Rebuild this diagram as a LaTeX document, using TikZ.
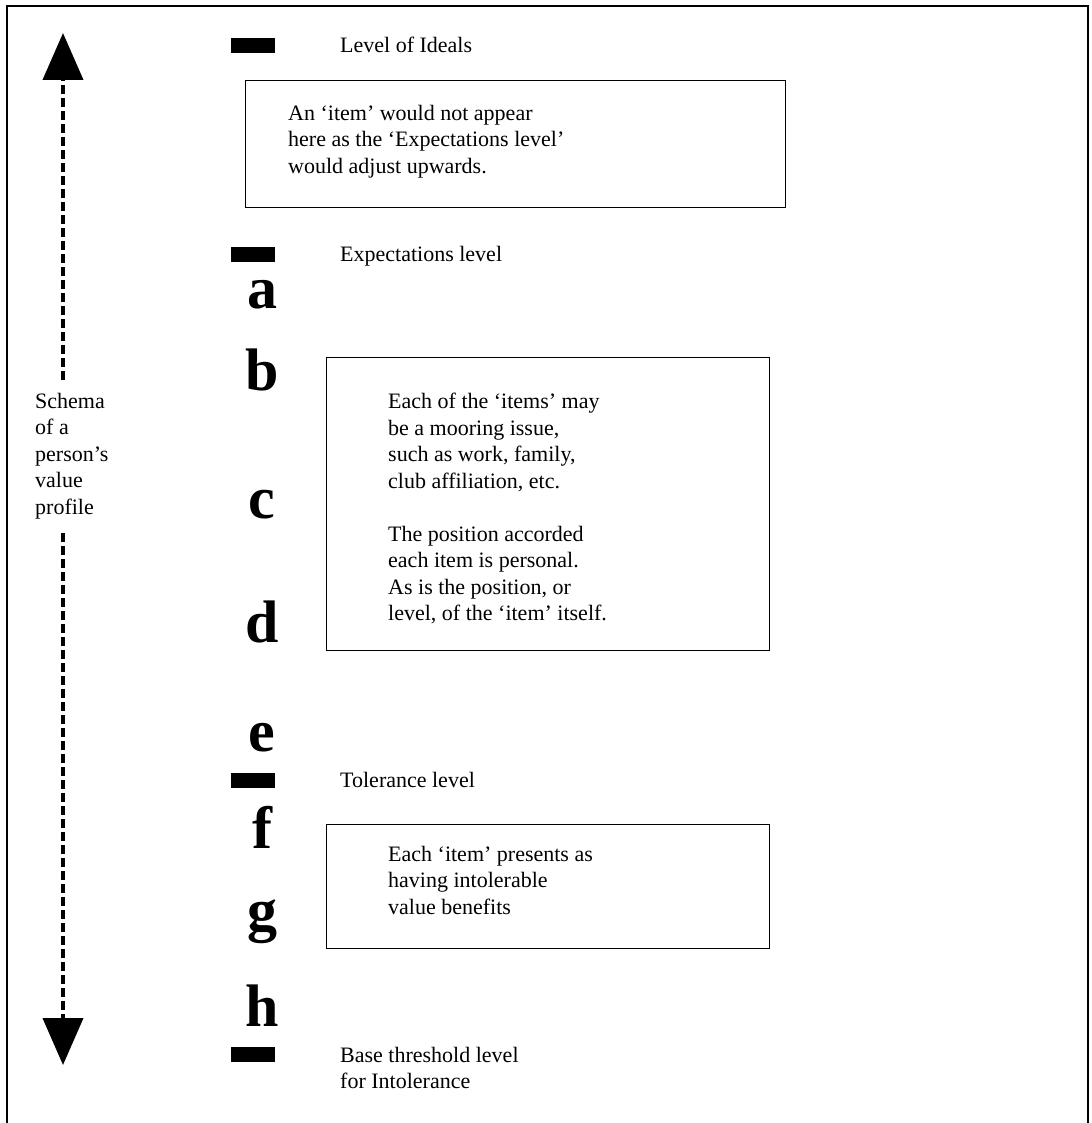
\documentclass[tikz,border=0pt]{standalone}
\usepackage{fontspec}
\setmainfont{Liberation Serif}
\usetikzlibrary{arrows.meta}

\begin{document}
\begin{tikzpicture}[x=1pt, y=-1pt,
  every node/.style = {inner sep=0pt, font=\fontsize{22}{26.5}\selectfont},
  levelmark/.style = {fill=black, minimum width=44pt, minimum height=15pt},
  levellabel/.style = {anchor=base west, align=left},
  itembox/.style = {draw, line width=1.4pt, anchor=north west},
  boxtext/.style = {anchor=north west, align=left},
  itemletter/.style = {anchor=base, font=\bfseries\fontsize{60}{60}\selectfont},
  profileline/.style = {line width=4pt, dash pattern=on 9pt off 4pt},
  bigtip/.style = {-{Triangle[width=40pt,length=47pt]}}
]
\useasboundingbox (0,0) rectangle (1091,1123);

% frame, open at the bottom
\coordinate (framebl) at (7,1123);
\coordinate (frametr) at (1088,6);
\coordinate (framebr) at (1088,1123);
\draw[line width=2pt] (framebl) |- (frametr) -- (framebr);

% value profile arrow
\node[boxtext] (schema) at (35,393) {Schema\\of a\\person’s\\value\\profile};
\coordinate (uptip) at (63,33);
\coordinate (gaptop) at (63,380);
\coordinate (gapbottom) at (63,533);
\coordinate (downtip) at (63,1065);
\draw[profileline, bigtip] (gaptop) -- (uptip);
\draw[profileline, bigtip] (gapbottom) -- (downtip);

% levels
\node[levelmark] (idealmark) at (253,46) {};
\node[levellabel] (ideallabel) at (340,53) {Level of Ideals};
\node[levelmark] (expectmark) at (253,254) {};
\node[levellabel] (expectlabel) at (340,261) {Expectations level};
\node[levelmark] (tolerancemark) at (253,780) {};
\node[levellabel] (tolerancelabel) at (340,787) {Tolerance level};
\node[levelmark] (basemark) at (253,1054) {};
\node[boxtext] (baselabel) at (340,1047) {Base threshold level\\for Intolerance};

% boxes
\node[itembox, minimum width=540pt, minimum height=127pt] (idealbox) at (245,80) {};
\node[boxtext] (idealtext) at (288,105) {An ‘item’ would not appear\\here as the ‘Expectations level’\\would adjust upwards.};
\node[itembox, minimum width=443pt, minimum height=293pt] (mooringbox) at (326,357) {};
\node[boxtext] (mooringtext) at (388,393) {Each of the ‘items’ may\\be a mooring issue,\\such as work, family,\\club affiliation, etc.\\[26.5pt]The position accorded\\each item is personal.\\As is the position, or\\level, of the ‘item’ itself.};
\node[itembox, minimum width=443pt, minimum height=124pt] (intolerablebox) at (326,824) {};
\node[boxtext] (intolerabletext) at (388,846) {Each ‘item’ presents as\\having intolerable\\value benefits};

% items
\foreach \l/\y in {a/308, b/390, c/518, d/642, e/751, f/848, g/930, h/1026}
  \node[itemletter] (letter-\l) at (262,\y) {\l};
\end{tikzpicture}
\end{document}
